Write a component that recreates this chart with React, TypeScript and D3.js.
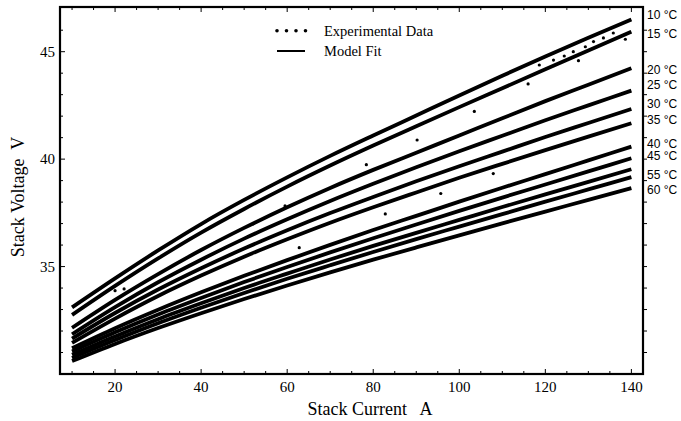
import React from "react";
import * as d3 from "d3";

const current = [10, 20, 30, 40, 50, 60, 70, 80, 90, 100, 110, 120, 130, 140];
const temperatures = ["10 °C", "15 °C", "20 °C", "25 °C", "30 °C", "35 °C", "40 °C", "45 °C", "50 °C", "55 °C", "60 °C"];
const fit10 = [33.1, 34.45, 35.75, 36.98, 38.1, 39.15, 40.15, 41.1, 42.03, 42.96, 43.88, 44.78, 45.65, 46.5];
const fit15 = [32.75, 34.1, 35.38, 36.58, 37.68, 38.72, 39.7, 40.63, 41.53, 42.42, 43.3, 44.18, 45.06, 45.93];
const fit20 = [32.15, 33.45, 34.65, 35.77, 36.8, 37.76, 38.66, 39.5, 40.3, 41.1, 41.9, 42.7, 43.46, 44.23];
const fit25 = [31.85, 33.11, 34.27, 35.32, 36.3, 37.2, 38.05, 38.85, 39.62, 40.37, 41.09, 41.81, 42.5, 43.19];
const fit30 = [31.65, 32.84, 33.93, 34.92, 35.84, 36.69, 37.49, 38.24, 38.97, 39.67, 40.35, 41.03, 41.68, 42.33];
const fit35 = [31.45, 32.58, 33.63, 34.58, 35.46, 36.27, 37.04, 37.76, 38.45, 39.13, 39.78, 40.42, 41.05, 41.67];
const fit40 = [31.2, 32.13, 32.99, 33.8, 34.57, 35.3, 36.01, 36.7, 37.36, 38.02, 38.67, 39.3, 39.94, 40.58];
const fit45 = [31.05, 31.94, 32.77, 33.54, 34.28, 34.98, 35.66, 36.32, 36.96, 37.59, 38.21, 38.82, 39.43, 40.04];
const fit50 = [30.9, 31.75, 32.55, 33.29, 34.0, 34.67, 35.33, 35.96, 36.57, 37.17, 37.77, 38.36, 38.94, 39.53];
const fit55 = [30.75, 31.58, 32.36, 33.08, 33.77, 34.43, 35.06, 35.68, 36.28, 36.86, 37.44, 38.02, 38.59, 39.16];
const fit60 = [30.6, 31.4, 32.14, 32.83, 33.49, 34.12, 34.73, 35.32, 35.89, 36.45, 37.01, 37.56, 38.1, 38.65];
const fits = [fit10, fit15, fit20, fit25, fit30, fit35, fit40, fit45, fit50, fit55, fit60];

// labels shown at right (50 °C has no label in the original)
const rightLabels = ["10 °C", "15 °C", "20 °C", "25 °C", "30 °C", "35 °C", "40 °C", "45 °C", "55 °C", "60 °C"];
const rightLabelVoltages = [46.71, 45.86, 44.18, 43.45, 42.6, 41.86, 40.74, 40.15, 39.27, 38.6];

// isolated experimental points visible off the fitted curves
const outlierCurrent = [90.2, 78.4, 103.5, 116.0, 127.7, 95.7, 107.9, 82.8, 59.5, 52.1, 62.8, 118.6, 121.9, 124.4, 126.5, 129.3, 131.2, 133.5, 135.8, 138.6, 20.0, 22.1];
const outlierVoltage = [40.89, 39.74, 42.22, 43.5, 44.58, 38.4, 39.33, 37.45, 37.82, 36.99, 35.88, 44.38, 44.61, 44.8, 45.0, 45.23, 45.47, 45.64, 45.87, 45.58, 33.88, 33.96];

const xTicks = [20, 40, 60, 80, 100, 120, 140];
const yTicks = [35, 40, 45];

const W = 681;
const H = 421;
const L = 60, R = 643, T = 7, B = 374;

export default function App() {
  const x = d3.scaleLinear().domain([7.2, 142.7]).range([L, R]);
  const y = d3.scaleLinear().domain([30.0, 47.08]).range([B, T]);
  const line = d3
    .line<[number, number]>()
    .x((d) => x(d[0]))
    .y((d) => y(d[1]))
    .curve(d3.curveMonotoneX);

  const serif = "'Liberation Serif', 'Times New Roman', serif";
  const sans = "'Liberation Sans', Arial, sans-serif";

  const xMinor = d3.range(10, 141, 5);
  const yMinor = d3.range(31, 47, 1);

  return (
    <svg width={W} height={H} style={{ position: "absolute", left: 0, top: 0, background: "#fff" }}>
      <rect x={0} y={0} width={W} height={H} fill="#fff" />
      <defs>
        <clipPath id="clip">
          <rect x={L} y={T} width={R - L} height={B - T} />
        </clipPath>
      </defs>
      <g clipPath="url(#clip)">
        {fits.map((vals, i) => (
          <path
            key={temperatures[i]}
            d={line(current.map((c, j) => [c, vals[j]] as [number, number])) || ""}
            fill="none"
            stroke="#000"
            strokeWidth={3.8}
          />
        ))}
        {outlierCurrent.map((c, i) => (
          <circle key={i} cx={x(c)} cy={y(outlierVoltage[i])} r={1.6} fill="#000" />
        ))}
      </g>

      {/* frame */}
      <rect x={L} y={T} width={R - L} height={B - T} fill="none" stroke="#000" strokeWidth={2.2} />

      {/* ticks */}
      {xMinor.map((t) => {
        const major = t % 20 === 0;
        const len = major ? 5 : 3;
        return (
          <g key={"xt" + t}>
            <line x1={x(t)} x2={x(t)} y1={B} y2={B - len} stroke="#000" strokeWidth={1} />
            <line x1={x(t)} x2={x(t)} y1={T} y2={T + len} stroke="#000" strokeWidth={1} />
          </g>
        );
      })}
      {yMinor.map((t) => {
        const major = t % 5 === 0;
        const len = major ? 5 : 3;
        return (
          <g key={"yt" + t}>
            <line x1={L} x2={L + len} y1={y(t)} y2={y(t)} stroke="#000" strokeWidth={1} />
            <line x1={R} x2={R + 4} y1={y(t)} y2={y(t)} stroke="#000" strokeWidth={1} />
          </g>
        );
      })}

      {/* tick labels */}
      {xTicks.map((t) => (
        <text key={"xl" + t} x={x(t)} y={392} textAnchor="middle" fontFamily={serif} fontSize={15}>
          {t}
        </text>
      ))}
      {yTicks.map((t) => (
        <text key={"yl" + t} x={55} y={y(t) + 5} textAnchor="end" fontFamily={serif} fontSize={15}>
          {t}
        </text>
      ))}

      {/* right-side temperature labels */}
      {rightLabels.map((lab, i) => (
        <text key={lab} x={647} y={y(rightLabelVoltages[i]) + 4.5} fontFamily={sans} fontSize={12}>
          {lab}
        </text>
      ))}

      {/* axis titles */}
      <text x={370} y={415} textAnchor="middle" fontFamily={serif} fontSize={18} style={{ whiteSpace: "pre" }}>
        {"Stack Current   A"}
      </text>
      <text
        transform={`translate(24, 197) rotate(-90)`}
        textAnchor="middle"
        fontFamily={serif}
        fontSize={18}
        style={{ whiteSpace: "pre" }}
      >
        {"Stack Voltage  V"}
      </text>

      {/* legend */}
      {[0, 1, 2, 3].map((k) => (
        <circle key={"ld" + k} cx={277 + k * 9.5} cy={30.7} r={1.8} fill="#000" />
      ))}
      <line x1={277} x2={305} y1={51} y2={51} stroke="#000" strokeWidth={2} />
      <text x={324} y={35.5} fontFamily={serif} fontSize={14.5}>
        Experimental Data
      </text>
      <text x={324} y={55.5} fontFamily={serif} fontSize={14.5}>
        Model Fit
      </text>
    </svg>
  );
}
